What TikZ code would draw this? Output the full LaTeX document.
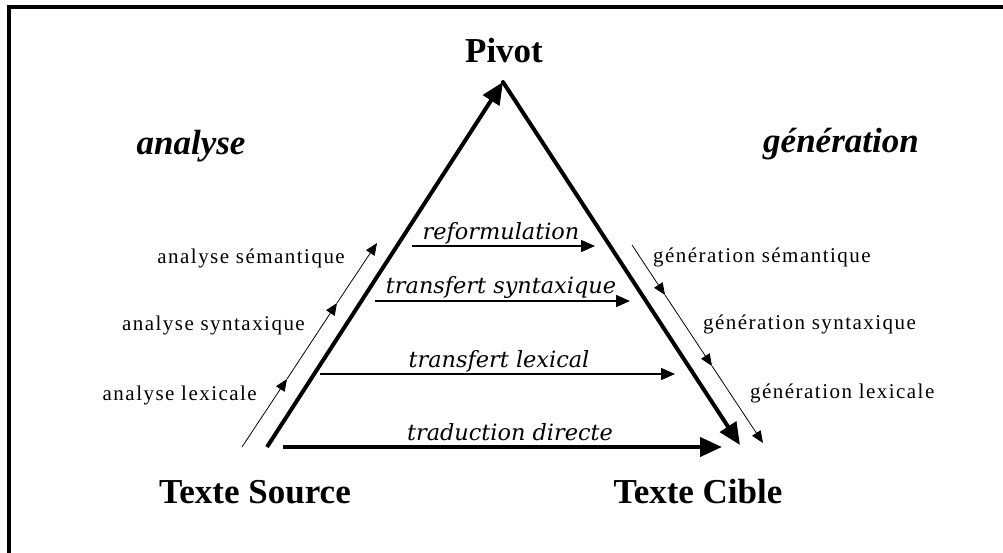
\documentclass[tikz,border=0pt]{standalone}
\usepackage{fontspec}
\setmainfont{Liberation Serif}
\newfontfamily\smallfont[LetterSpace=7]{Liberation Serif}
\newfontfamily\itfont{DejaVu Serif}
\usetikzlibrary{arrows.meta}
\begin{document}
\begin{tikzpicture}[x=1pt,y=-1pt,
  big/.style={font=\fontsize{35}{40}\selectfont\bfseries, inner sep=0pt},
  bigit/.style={font=\fontsize{35}{40}\selectfont\bfseries\itshape, inner sep=0pt},
  lab/.style={font=\smallfont\fontsize{21}{23}\selectfont, inner sep=0pt},
  itlab/.style={font=\itfont\fontsize{22.4}{26}\selectfont\itshape, inner sep=0pt},
  thick arrow/.style={line width=4pt, -{Triangle[length=22pt,width=19pt]}},
  mid arrow/.style={line width=1.5pt, -{Triangle[length=14pt,width=12pt]}},
  thin arrow/.style={line width=0.8pt, -{Triangle[length=12pt,width=10pt]}}]
\useasboundingbox (0,0) rectangle (1003,553);
\fill[white] (0,0) rectangle (1003,553);
% frame (cropped on the right and bottom)
\draw[line width=3.5pt] (9,600) -- (9,7) -- (1050,7);

% corners of the triangle
\coordinate (apex) at (503,82);
\coordinate (ls) at (267,447);
\coordinate (re) at (740,445);
\coordinate (bs) at (283,447);
\coordinate (be) at (722,447);

\draw[thick arrow] (ls) -- (apex);
\draw[thick arrow, line cap=round] (apex) -- (re);
\draw[thick arrow] (bs) -- (be);

% thin analysis line
\coordinate (a0) at (242,447);
\coordinate (a1) at (287,379);
\coordinate (a2) at (337,303);
\coordinate (a3) at (377,243);
\draw[thin arrow] (a0) -- (a1);
\draw[thin arrow] (a1) -- (a2);
\draw[thin arrow] (a2) -- (a3);

% thin generation line
\coordinate (g0) at (632,245);
\coordinate (g1) at (665,295);
\coordinate (g2) at (712,366);
\coordinate (g3) at (763,443);
\draw[thin arrow] (g0) -- (g1);
\draw[thin arrow] (g1) -- (g2);
\draw[thin arrow] (g2) -- (g3);

% horizontal transfer arrows
\coordinate (r0) at (412,246);
\coordinate (r1) at (595,246);
\coordinate (s0) at (375,301);
\coordinate (s1) at (630,301);
\coordinate (x0) at (320,374);
\coordinate (x1) at (675,374);
\draw[mid arrow] (r0) -- (r1);
\draw[mid arrow] (s0) -- (s1);
\draw[mid arrow] (x0) -- (x1);

% labels
\node[big, anchor=base] (pivot) at (504,63) {Pivot};
\node[big, anchor=base] (src) at (255,503) {Texte Source};
\node[big, anchor=base] (cib) at (698,503) {Texte Cible};
\node[bigit, anchor=base] (an) at (191,155) {analyse};
\node[bigit, anchor=base] (gen) at (841,153) {génération};

\node[lab, anchor=base east] (as) at (345,263) {analyse sémantique};
\node[lab, anchor=base east] (ay) at (305,330) {analyse syntaxique};
\node[lab, anchor=base east] (al) at (257,400) {analyse lexicale};
\node[lab, anchor=base west] (gs) at (653,262) {génération sémantique};
\node[lab, anchor=base west] (gy) at (703,329) {génération syntaxique};
\node[lab, anchor=base west] (gl) at (750,398) {génération lexicale};

\node[itlab, anchor=base] (ref) at (501,240) {reformulation};
\node[itlab, anchor=base] (ts) at (501,293) {transfert syntaxique};
\node[itlab, anchor=base] (tl) at (499,367) {transfert lexical};
\node[itlab, anchor=base] (td) at (510,440) {traduction directe};
\end{tikzpicture}
\end{document}
